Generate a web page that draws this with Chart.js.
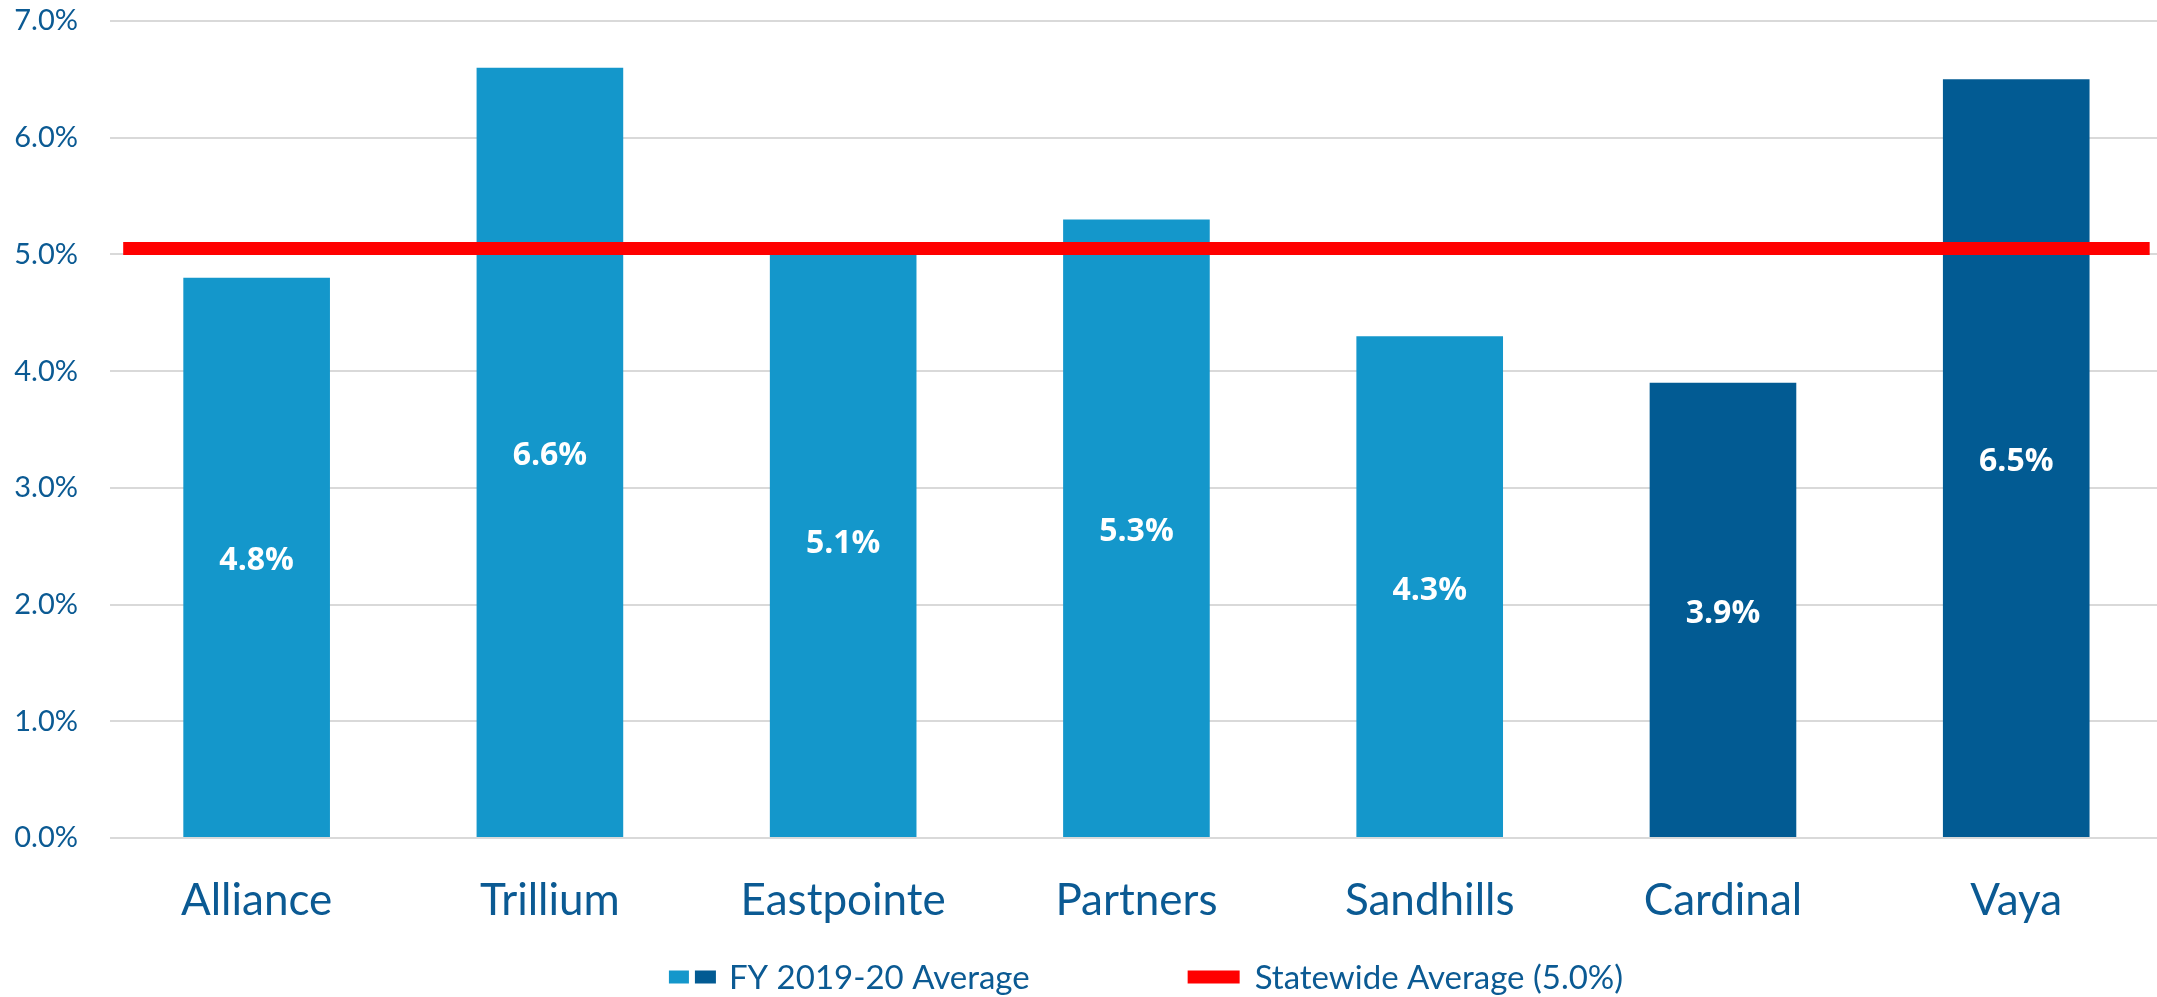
<!DOCTYPE html>
<html><head><meta charset="utf-8">
<script src="https://cdn.jsdelivr.net/npm/chart.js@4/dist/chart.umd.min.js"></script>
<style>html,body{margin:0;padding:0;background:#fff;} #wrap{width:2157px;height:997px;position:relative;overflow:hidden;}</style>
</head><body><div id="wrap"><canvas id="c"></canvas></div>
<script>
// ---- data ----
const categories = ['Alliance','Trillium','Eastpointe','Partners','Sandhills','Cardinal','Vaya'];
const fyAverage = [4.8, 6.6, 5.1, 5.3, 4.3, 3.9, 6.5];
const fyLabels = ['4.8%','6.6%','5.1%','5.3%','4.3%','3.9%','6.5%'];
const statewideAverage = 5.05;
const statewideSpan = [-0.455, 6.455];
const yTickValues = [0, 1, 2, 3, 4, 5, 6, 7];
const legendLabels = ['FY 2019-20 Average', 'Statewide Average (5.0%)'];

// ---- styles ----
const LIGHT = '#1497CB', DARK = '#025B93', RED = '#FF0000', TEXT = '#0B5A93';
const barColors = categories.map((c, i) => i >= 5 ? DARK : LIGHT);
const FONT = 'Lato, "Open Sans", sans-serif';

const dataLabelPlugin = {
  id: 'dataLabels',
  afterDatasetsDraw(chart) {
    const meta = chart.getDatasetMeta(0);
    const ctx = chart.ctx;
    ctx.save();
    ctx.fillStyle = '#FFFFFF';
    ctx.font = 'bold 32px "Open Sans", sans-serif';
    ctx.textAlign = 'center';
    ctx.textBaseline = 'middle';
    meta.data.forEach((bar, i) => {
      ctx.fillText(fyLabels[i], bar.x, (bar.y + bar.base) / 2 + 4);
    });
    ctx.restore();
  }
};

const legendPlugin = {
  id: 'customLegend',
  afterDraw(chart) {
    const ctx = chart.ctx;
    ctx.save();
    ctx.font = '33px ' + FONT;
    ctx.textBaseline = 'middle';
    ctx.textAlign = 'left';
    const cy = 977;
    const sw1 = 47, gap1 = 13, sw2 = 52, gap2 = 15, between = 158;
    const t1 = ctx.measureText(legendLabels[0]).width;
    const t2 = ctx.measureText(legendLabels[1]).width;
    const total = sw1 + gap1 + t1 + between + sw2 + gap2 + t2;
    let x = 1146 - total / 2;
    ctx.fillStyle = LIGHT; ctx.fillRect(x, cy - 6.5, 20, 13);
    ctx.fillStyle = DARK; ctx.fillRect(x + 26, cy - 6.5, 21, 13);
    x += sw1 + gap1;
    ctx.fillStyle = TEXT; ctx.fillText(legendLabels[0], x, cy + 1);
    x += t1 + between;
    ctx.fillStyle = RED; ctx.fillRect(x, cy - 6.5, sw2, 13);
    x += sw2 + gap2;
    ctx.fillStyle = TEXT; ctx.fillText(legendLabels[1], x, cy + 1);
    ctx.restore();
  }
};

new Chart(document.getElementById('c'), {
  type: 'bar',
  data: {
    datasets: [
      {
        label: legendLabels[0],
        data: fyAverage.map((v, i) => ({x: i, y: v})),
        backgroundColor: barColors,
        categoryPercentage: 1.0,
        barPercentage: 0.5,
        grouped: false,
        order: 1
      },
      {
        type: 'line',
        label: legendLabels[1],
        data: statewideSpan.map(x => ({x: x, y: statewideAverage})),
        borderColor: RED,
        borderWidth: 13,
        borderCapStyle: 'butt',
        pointRadius: 0,
        fill: false,
        order: 0
      }
    ]
  },
  options: {
    responsive: true,
    maintainAspectRatio: false,
    animation: false,
    layout: { padding: { top: 21, left: 0, right: 0, bottom: 0 } },
    plugins: { legend: { display: false }, tooltip: { enabled: false } },
    scales: {
      x: {
        type: 'linear',
        min: -0.5,
        max: 6.48,
        offset: false,
        afterBuildTicks(s) { s.ticks = categories.map((c, i) => ({value: i})); },
        grid: { display: false, drawTicks: false, offset: false },
        border: { display: false },
        ticks: { color: TEXT, font: { family: FONT, size: 44 }, padding: 36, maxRotation: 0, autoSkip: false,
                 callback: v => categories[v] },
        afterFit(s) { s.height = 159; s.paddingLeft = 0; s.paddingRight = 0; }
      },
      y: {
        min: 0, max: 7,
        afterBuildTicks(s) { s.ticks = yTickValues.map(v => ({value: v})); },
        grid: { color: '#D9D9D9', lineWidth: 2, drawTicks: false },
        border: { display: false },
        ticks: { color: TEXT, font: { family: FONT, size: 29 }, padding: 32,
                 callback: v => v.toFixed(1) + '%' },
        afterFit(s) { s.width = 110; s.paddingTop = 0; s.paddingBottom = 0; }
      }
    }
  },
  plugins: [dataLabelPlugin, legendPlugin]
});
</script></body></html>
